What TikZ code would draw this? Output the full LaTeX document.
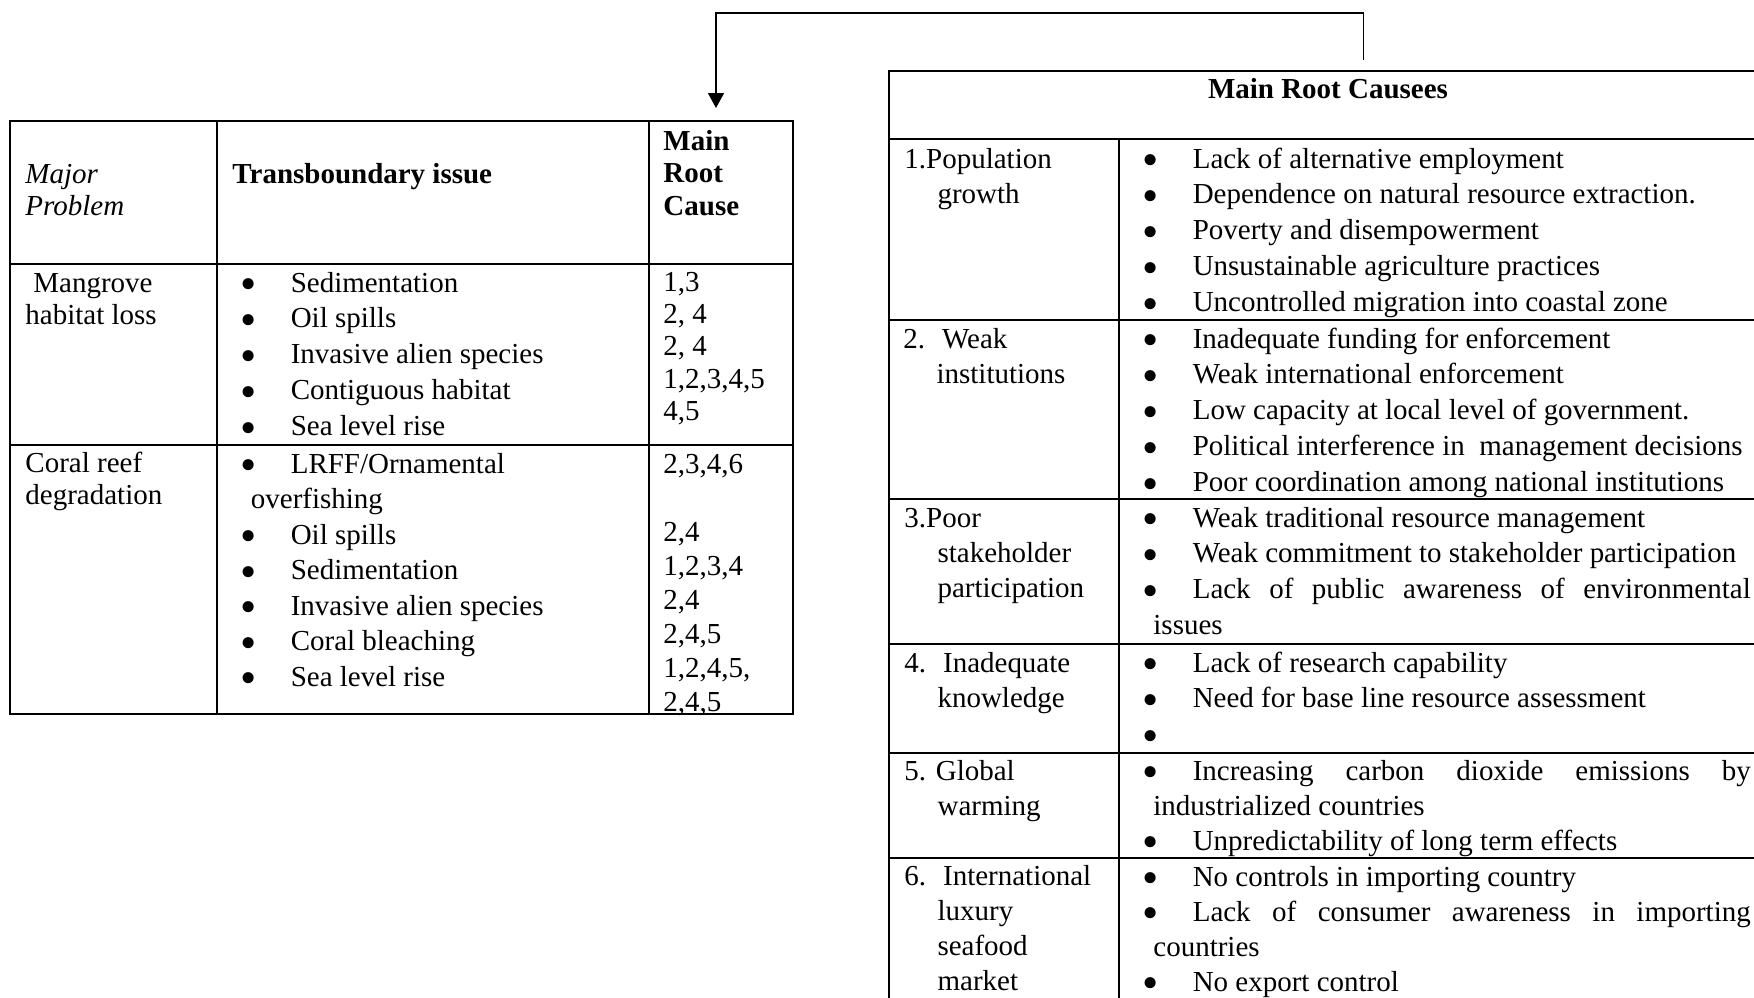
\documentclass[tikz,border=0pt]{standalone}
\usepackage{fontspec}
\setmainfont{Liberation Serif}
\usepackage{graphicx}
\usepackage{tikz}
\usetikzlibrary{arrows.meta}
\def\pxu{0.414pt}
\newcommand{\bul}{\makebox[20pt][l]{\hspace*{-1pt}\smash{\raisebox{-3.2pt}{\scalebox{1.6}{\textbullet}}}}}
\newcommand{\fs}[1]{\fontsize{12pt}{#1}\selectfont}
\newcommand{\lines}[1]{\begin{tabular}[t]{@{}l@{}}#1\end{tabular}}
\tikzstyle{cell}=[draw=black, line width=1pt, inner sep=0pt, outer sep=0pt, anchor=north west]
\tikzstyle{txt}=[anchor=base west, inner sep=0pt]
\tikzstyle{link}=[-{Triangle[width=6.6pt,length=6.2pt]}, line width=0.7pt]

\begin{document}
\begin{tikzpicture}[x=0.414pt, y=-0.414pt]
        \useasboundingbox (0,0) rectangle (1754,998);
        \clip (0,0) rectangle (1754,998);

        \node[cell, minimum width=207*\pxu, minimum height=143*\pxu] (probhead) at (10,121) {};
        \node[cell, minimum width=432*\pxu, minimum height=143*\pxu] (issuehead) at (217,121) {};
        \node[cell, minimum width=144*\pxu, minimum height=143*\pxu] (causehead) at (649,121) {};
        \node[cell, minimum width=207*\pxu, minimum height=181*\pxu] (mangprob) at (10,264) {};
        \node[cell, minimum width=432*\pxu, minimum height=181*\pxu] (mangissue) at (217,264) {};
        \node[cell, minimum width=144*\pxu, minimum height=181*\pxu] (mangcause) at (649,264) {};
        \node[cell, minimum width=207*\pxu, minimum height=269*\pxu] (coralprob) at (10,445) {};
        \node[cell, minimum width=432*\pxu, minimum height=269*\pxu] (coralissue) at (217,445) {};
        \node[cell, minimum width=144*\pxu, minimum height=269*\pxu] (coralcause) at (649,445) {};

        \node[txt, font=\fs{13.66pt}\itshape] (probtext) at (25,183) {\lines{Major\\Problem}};
        \node[txt, font=\fs{14pt}\bfseries] (issuetext) at (232,183) {Transboundary issue};
        \node[txt, font=\fs{13.66pt}\bfseries] (causetext) at (663,150) {\lines{Main\\Root\\Cause}};
        \node[txt, font=\fs{13.66pt}] (mangprobtext) at (25,292) {\lines{\hspace*{3.3pt}Mangrove\\habitat loss}};
        \node[txt, font=\fs{14.9pt}] (mangissuetext) at (242,292) {\lines{\bul Sedimentation\\\bul Oil spills\\\bul Invasive alien species\\\bul Contiguous habitat\\\bul Sea level rise}};
        \node[txt, font=\fs{13.45pt}] (mangcausetext) at (663,291) {\lines{1,3\\2, 4\\2, 4\\1,2,3,4,5\\4,5}};
        \node[txt, font=\fs{13.66pt}] (coralprobtext) at (25,472) {\lines{Coral reef\\degradation}};
        \node[txt, font=\fs{14.7pt}] (coralissuetext) at (242,473) {\lines{\bul LRFF/Ornamental\\\hspace*{3.5pt}overfishing\\\bul Oil spills\\\bul Sedimentation\\\bul Invasive alien species\\\bul Coral bleaching\\\bul Sea level rise}};
        \node[txt, font=\fs{14.1pt}] (coralcausetext) at (663,473) {\lines{2,3,4,6\\\mbox{}\\2,4\\1,2,3,4\\2,4\\2,4,5\\1,2,4,5,\\2,4,5}};

        \node[cell, minimum width=879*\pxu, minimum height=68*\pxu] (roothead) at (889,71) {};
        \node[cell, minimum width=230*\pxu, minimum height=181*\pxu] (popname) at (889,139) {};
        \node[cell, minimum width=649*\pxu, minimum height=181*\pxu] (popitems) at (1119,139) {};
        \node[cell, minimum width=230*\pxu, minimum height=179*\pxu] (instname) at (889,320) {};
        \node[cell, minimum width=649*\pxu, minimum height=179*\pxu] (institems) at (1119,320) {};
        \node[cell, minimum width=230*\pxu, minimum height=145*\pxu] (stakename) at (889,499) {};
        \node[cell, minimum width=649*\pxu, minimum height=145*\pxu] (stakeitems) at (1119,499) {};
        \node[cell, minimum width=230*\pxu, minimum height=109*\pxu] (knowname) at (889,644) {};
        \node[cell, minimum width=649*\pxu, minimum height=109*\pxu] (knowitems) at (1119,644) {};
        \node[cell, minimum width=230*\pxu, minimum height=105*\pxu] (warmname) at (889,753) {};
        \node[cell, minimum width=649*\pxu, minimum height=105*\pxu] (warmitems) at (1119,753) {};
        \node[cell, minimum width=230*\pxu, minimum height=152*\pxu] (marketname) at (889,858) {};
        \node[cell, minimum width=649*\pxu, minimum height=152*\pxu] (marketitems) at (1119,858) {};

        \node[txt, anchor=base, font=\fs{14pt}\bfseries] (roottext) at (1328,98) {Main Root Causees};
        \node[txt, font=\fs{14.5pt}] (popnametext) at (904,168) {\lines{1.Population\\\hspace*{13.7pt}growth}};
        \node[txt, font=\fs{14.9pt}] (popitemstext) at (1144,168) {\lines{\bul Lack of alternative employment\\\bul Dependence on natural resource extraction.\\\bul Poverty and disempowerment\\\bul Unsustainable agriculture practices\\\bul Uncontrolled migration into coastal zone}};
        \node[txt, font=\fs{14.5pt}] (instnametext) at (903,348) {\lines{2.\hspace{7pt}Weak\\\hspace*{13.7pt}institutions}};
        \node[txt, font=\fs{14.9pt}] (institemstext) at (1144,348) {\lines{\bul Inadequate funding for enforcement\\\bul Weak international enforcement\\\bul Low capacity at local level of government.\\\bul Political interference in\ \ management decisions\\\bul Poor coordination among national institutions}};
        \node[txt, font=\fs{14.5pt}] (stakenametext) at (904,527) {\lines{3.Poor\\\hspace*{13.7pt}stakeholder\\\hspace*{13.7pt}participation}};
        \node[txt, font=\fs{14.9pt}] (stakeitemstext) at (1144,527) {\lines{\bul Weak traditional resource management\\\bul Weak commitment to stakeholder participation\\\bul\makebox[231pt][s]{Lack of public awareness of environmental}\\\hspace*{3.7pt}issues}};
        \node[txt, font=\fs{14.5pt}] (knownametext) at (904,672) {\lines{4.\hspace{7pt}Inadequate\\\hspace*{13.7pt}knowledge}};
        \node[txt, font=\fs{14.9pt}] (knowitemstext) at (1144,672) {\lines{\bul Lack of research capability\\\bul Need for base line resource assessment\\\bul}};
        \node[txt, font=\fs{14.5pt}] (warmnametext) at (904,780) {\lines{5. Global\\\hspace*{13.7pt}warming}};
        \node[txt, font=\fs{14.5pt}] (warmitemstext) at (1144,780) {\lines{\bul\makebox[231pt][s]{Increasing carbon dioxide emissions by}\\\hspace*{3.7pt}industrialized countries\\\bul Unpredictability of long term effects}};
        \node[txt, font=\fs{14.5pt}] (marketnametext) at (904,885) {\lines{6.\hspace{7pt}International\\\hspace*{13.7pt}luxury\\\hspace*{13.7pt}seafood\\\hspace*{13.7pt}market}};
        \node[txt, font=\fs{14.5pt}] (marketitemstext) at (1144,886) {\lines{\bul No controls in importing country\\\bul\makebox[231pt][s]{Lack of consumer awareness in importing}\\\hspace*{3.7pt}countries\\\bul No export control}};

        \coordinate (linkstart) at ([xshift=35*\pxu, yshift=11*\pxu]roothead.north);
        \coordinate (linkend) at ([xshift=-5*\pxu, yshift=13*\pxu]causehead.north);
        \draw[link] (linkstart) -- ++(0,-47) -| (linkend);
    \end{tikzpicture}
\end{document}
